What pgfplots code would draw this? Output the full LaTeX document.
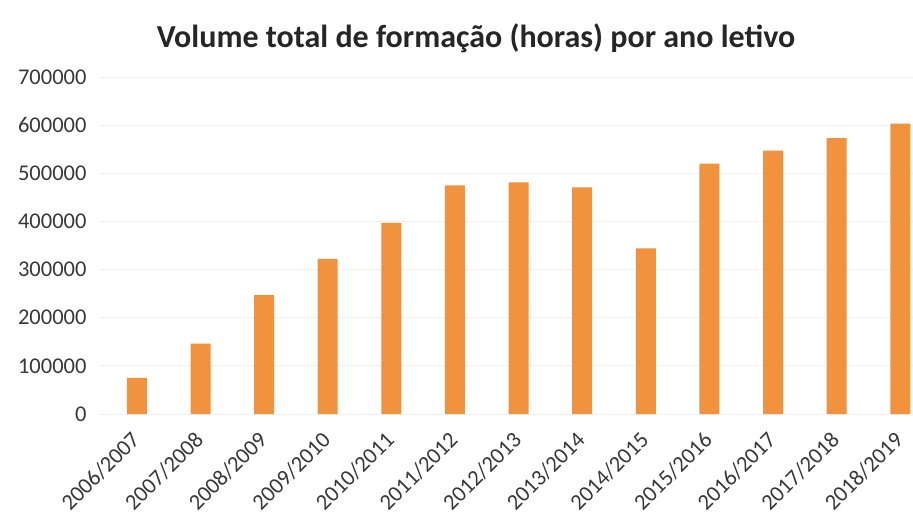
\documentclass[border=0pt]{standalone}
\usepackage{pgfplots}
\pgfplotsset{compat=1.18}
\usepackage{fontspec}
\setmainfont{Carlito}
\definecolor{barorange}{RGB}{241,146,62}
\begin{document}
\begin{tikzpicture}
\useasboundingbox (0,0) rectangle (913pt,531pt);
\begin{axis}[
  at={(100pt,117pt)}, anchor=south west,
  scale only axis,
  width=813pt, height=337pt,
  xmin=-0.58, xmax=12.2,
  ymin=0, ymax=700000,
  ytick={0,100000,...,700000},
  scaled y ticks=false,
  /pgf/number format/assume math mode=true,
  yticklabel={\pgfmathprintnumber[fixed,1000 sep={}]{\tick}},
  xtick={0,...,12},
  xticklabels={2006/2007,2007/2008,2008/2009,2009/2010,2010/2011,2011/2012,2012/2013,2013/2014,2014/2015,2015/2016,2016/2017,2017/2018,2018/2019},
  ticklabel style={font=\fontsize{22.5}{26}\selectfont, text=black!78},
  yticklabel style={xshift=-10pt},
  xticklabel style={xshift=-1pt, yshift=-22pt, rotate=45, anchor=east, inner sep=0pt},
  axis line style={draw=none},
  major tick style={draw=none},
  ymajorgrids, major grid style={black!6, line width=0.8pt},
  clip=false,
]
\addplot[ybar, bar width=20pt, fill=barorange, draw=none] coordinates {
(0,75000) (1,146000) (2,247000) (3,322000) (4,397000) (5,475000) (6,481000)
(7,471000) (8,344000) (9,520000) (10,547000) (11,573000) (12,603000)};
\end{axis}
\node[font=\bfseries\fontsize{32}{38}\selectfont, text=black!85] at (476pt,493pt) {Volume total de formação (horas) por ano letivo};
\end{tikzpicture}
\end{document}
